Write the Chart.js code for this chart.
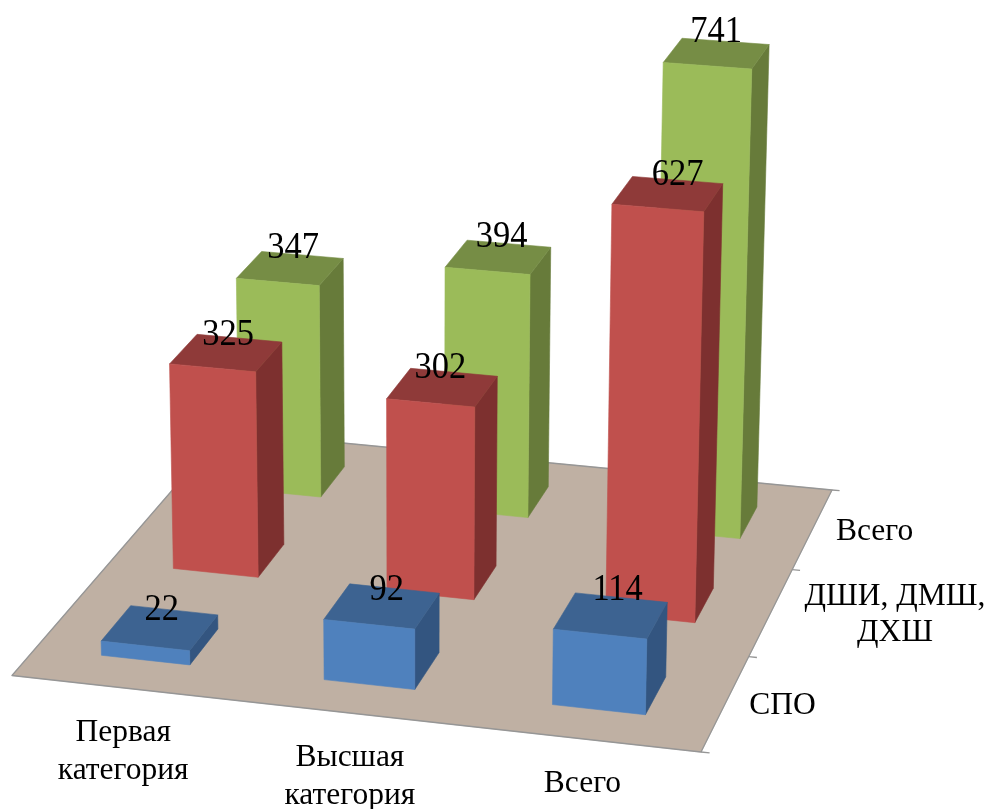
<!DOCTYPE html>
<html>
<head>
<meta charset="utf-8">
<script src="https://cdn.jsdelivr.net/npm/chart.js@4"></script>
<style>
  html, body { margin: 0; padding: 0; background: #fff; }
  canvas { display: block; filter: blur(0.5px); }
</style>
</head>
<body>
<canvas id="chart" width="989" height="809"></canvas>
<script>
const categories = [['Первая', 'категория'], ['Высшая', 'категория'], ['Всего']];
const seriesNames = [['СПО'], ['ДШИ, ДМШ,', 'ДХШ'], ['Всего']];
const spoValues = [22, 92, 114];
const artSchoolValues = [325, 302, 627];
const totalValues = [347, 394, 741];
const seriesValues = [spoValues, artSchoolValues, totalValues];

// front, top, side
const seriesColors = [
    ['#4f81bd', '#3d6391', '#335580'],
    ['#c0504d', '#8f3a39', '#7d302f'],
    ['#9bbb59', '#768d45', '#677b3a']
];
const floorColor = '#bfb0a3';
const edgeColor = '#969696';
const serifFont = '"Liberation Serif", "Times New Roman", serif';

// camera of the 3d chart, u/v are floor coords 0..1, z is the value
const cam = {
    a: 662.67, b: 242.1, c: 12, p: -0.021,
    d: 48.25, e: -183.83, f: 675.5, q: -0.68358,
    g: -0.03757, h: 0.13945, r: -0.0000507
};

function project(u, v, z) {
    const w = cam.g * u + cam.h * v + cam.r * z + 1;
    return {
        x: (cam.a * u + cam.b * v + cam.p * z + cam.c) / w,
        y: (cam.d * u + cam.e * v + cam.q * z + cam.f) / w
    };
}

const cellSize = 1 / 3;
const barHalf = cellSize * 0.2; // gap width 150%

// pixel offset of each value label from its top face, by series and category
const labelOffsets = [
    [[2, -18], [5, -16], [7, -25.5]],
    [[2, -18], [-2, -19], [10, -19]],
    [[3, -20], [3.5, -20], [-0.5, -21]]
];

const shapes = [];
function addShape(points, color, closed) {
    shapes.push({ data: points, color: color, closed: closed, showLine: false, pointRadius: 0 });
}

// floor and its axis lines
addShape([project(0, 0, 0), project(1, 0, 0), project(1, 1, 0), project(0, 1, 0)], floorColor, true);
addShape([project(0, 1, 0), project(0, 0, 0), project(1, 0, 0), project(1, 1, 0), project(0, 1, 0)], edgeColor, false);
[0, 1, 2, 3].forEach(i => {
    addShape([project(1, i * cellSize, 0), project(1.012, i * cellSize, 0)], edgeColor, false);
});

// bars, back row first so the front rows cover them
for (let s = seriesValues.length - 1; s >= 0; s--) {
    seriesValues[s].forEach((value, c) => {
        const u0 = (c + 0.5) * cellSize - barHalf;
        const u1 = (c + 0.5) * cellSize + barHalf;
        const v0 = (s + 0.5) * cellSize - barHalf;
        const v1 = (s + 0.5) * cellSize + barHalf;
        const colors = seriesColors[s];
        addShape([project(u1, v0, 0), project(u1, v1, 0), project(u1, v1, value), project(u1, v0, value)], colors[2], true);
        addShape([project(u0, v0, value), project(u1, v0, value), project(u1, v1, value), project(u0, v1, value)], colors[1], true);
        addShape([project(u0, v0, 0), project(u1, v0, 0), project(u1, v0, value), project(u0, v0, value)], colors[0], true);
    });
}

const shapesPlugin = {
    id: 'shapes',
    afterDatasetsDraw(chart) {
        const ctx = chart.ctx;
        ctx.save();
        chart.data.datasets.forEach((ds, i) => {
            const pts = chart.getDatasetMeta(i).data;
            ctx.beginPath();
            pts.forEach((p, k) => k ? ctx.lineTo(p.x, p.y) : ctx.moveTo(p.x, p.y));
            ctx.strokeStyle = ds.color;
            ctx.lineJoin = 'round';
            if (ds.closed) {
                ctx.closePath();
                ctx.fillStyle = ds.color;
                ctx.fill();
                ctx.lineWidth = 0.6;
            } else {
                ctx.lineWidth = 1.3;
            }
            ctx.stroke();
        });
        ctx.restore();
    }
};

const labelsPlugin = {
    id: 'labels',
    afterDraw(chart) {
        const ctx = chart.ctx;
        const sx = chart.scales.x;
        const sy = chart.scales.y;
        ctx.save();
        ctx.fillStyle = '#000';
        ctx.textAlign = 'center';
        ctx.textBaseline = 'middle';

        // value labels sit over the middle of each top face, the digits are a bit tall in the picture
        ctx.font = '34.5px ' + serifFont;
        seriesValues.forEach((vals, s) => {
            vals.forEach((value, c) => {
                const p = project((c + 0.5) * cellSize, (s + 0.5) * cellSize, value);
                const off = labelOffsets[s][c];
                ctx.save();
                ctx.translate(sx.getPixelForValue(p.x) + off[0], sy.getPixelForValue(p.y) + off[1]);
                ctx.scale(1, 1.09);
                ctx.fillText(String(value), 0, 0);
                ctx.restore();
            });
        });

        ctx.font = '31.5px ' + serifFont;
        categories.forEach((lines, c) => {
            const p = project((c + 0.5) * cellSize, 0, 0);
            lines.forEach((line, k) => {
                ctx.fillText(line, sx.getPixelForValue(p.x), sy.getPixelForValue(p.y) + 45 + k * 37.5);
            });
        });
        const seriesLabelDx = [57, 124, 62];
        seriesNames.forEach((lines, s) => {
            const p = project(1, (s + 0.5) * cellSize, 0);
            lines.forEach((line, k) => {
                const dy = (k - (lines.length - 1) / 2) * 36 + 3;
                ctx.fillText(line, sx.getPixelForValue(p.x) + seriesLabelDx[s], sy.getPixelForValue(p.y) + dy);
            });
        });
        ctx.restore();
    }
};

new Chart(document.getElementById('chart').getContext('2d'), {
    type: 'scatter',
    data: { datasets: shapes },
    plugins: [shapesPlugin, labelsPlugin],
    options: {
        responsive: false,
        animation: false,
        layout: { padding: 0 },
        plugins: { legend: { display: false }, tooltip: { enabled: false } },
        scales: {
            x: { type: 'linear', min: 0, max: 989, display: false },
            y: { type: 'linear', min: 0, max: 809, reverse: true, display: false }
        }
    }
});
</script>
</body>
</html>
